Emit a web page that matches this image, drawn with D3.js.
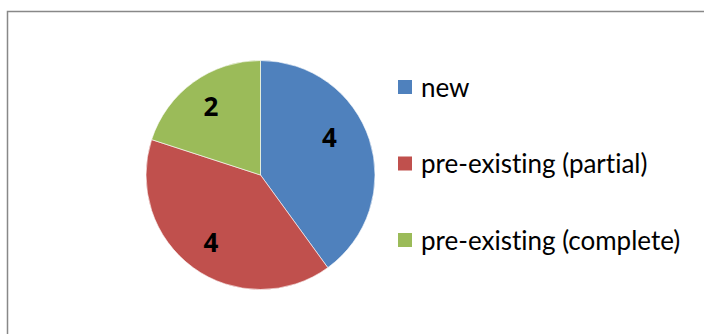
<!DOCTYPE html>
<html><head><meta charset="utf-8">
<script src="https://cdn.jsdelivr.net/npm/d3@7"></script>
<style>html,body{margin:0;padding:0;background:#fff;}svg{display:block;}</style>
</head><body>
<svg id="chart" width="704" height="334"></svg>
<script>
const categories = ["new", "pre-existing (partial)", "pre-existing (complete)"];
const values = [4, 4, 2];
const colors = ["#4F81BD", "#C0504D", "#9BBB59"];

const svg = d3.select("#chart");
svg.append("rect").attr("x", 7.5).attr("y", 11.5).attr("width", 800).attr("height", 400)
  .attr("fill", "#fff").attr("stroke", "#888").attr("stroke-width", 1.5);

const cx = 260.5, cy = 175, R = 114.5;
const g = svg.append("g").attr("transform", `translate(${cx},${cy})`);
const pie = d3.pie().sort(null).value(d => d)(values);
const arc = d3.arc().innerRadius(0).outerRadius(R);
const labelArc = d3.arc().innerRadius(R * 0.735).outerRadius(R * 0.735);
// Excel "best fit" label nudges (pixels, relative to centroid)
const labelNudge = [[-11, -11], [0, 0], [0, 0]];

g.selectAll("path").data(pie).join("path")
  .attr("d", arc).attr("fill", (d, i) => colors[i])
  .attr("stroke", "#fff").attr("stroke-width", 0.6);

g.selectAll("text").data(pie).join("text")
  .attr("transform", (d, i) => {
    const c = labelArc.centroid(d);
    return `translate(${c[0] + labelNudge[i][0]},${c[1] + labelNudge[i][1]})`;
  })
  .attr("text-anchor", "middle").attr("dy", "0.36em")
  .attr("font-family", "'Open Sans', 'Liberation Sans', sans-serif").attr("font-weight", 700)
  .attr("font-size", 26).attr("fill", "#000")
  .text(d => d.data);

const ly = d3.scalePoint().domain(categories).range([87, 240]);
const leg = svg.append("g");
const items = leg.selectAll("g").data(categories).join("g")
  .attr("transform", d => `translate(398,${ly(d)})`);
items.append("rect").attr("x", 0).attr("y", -7).attr("width", 14).attr("height", 14)
  .attr("fill", (d, i) => colors[i]);
items.append("text").attr("x", 23).attr("y", 9.5)
  .attr("font-family", "Lato, 'Open Sans', sans-serif").attr("font-size", 26).attr("fill", "#000")
  .style("font-variant-ligatures", "none")
  .text(d => d);
</script>
</body></html>
